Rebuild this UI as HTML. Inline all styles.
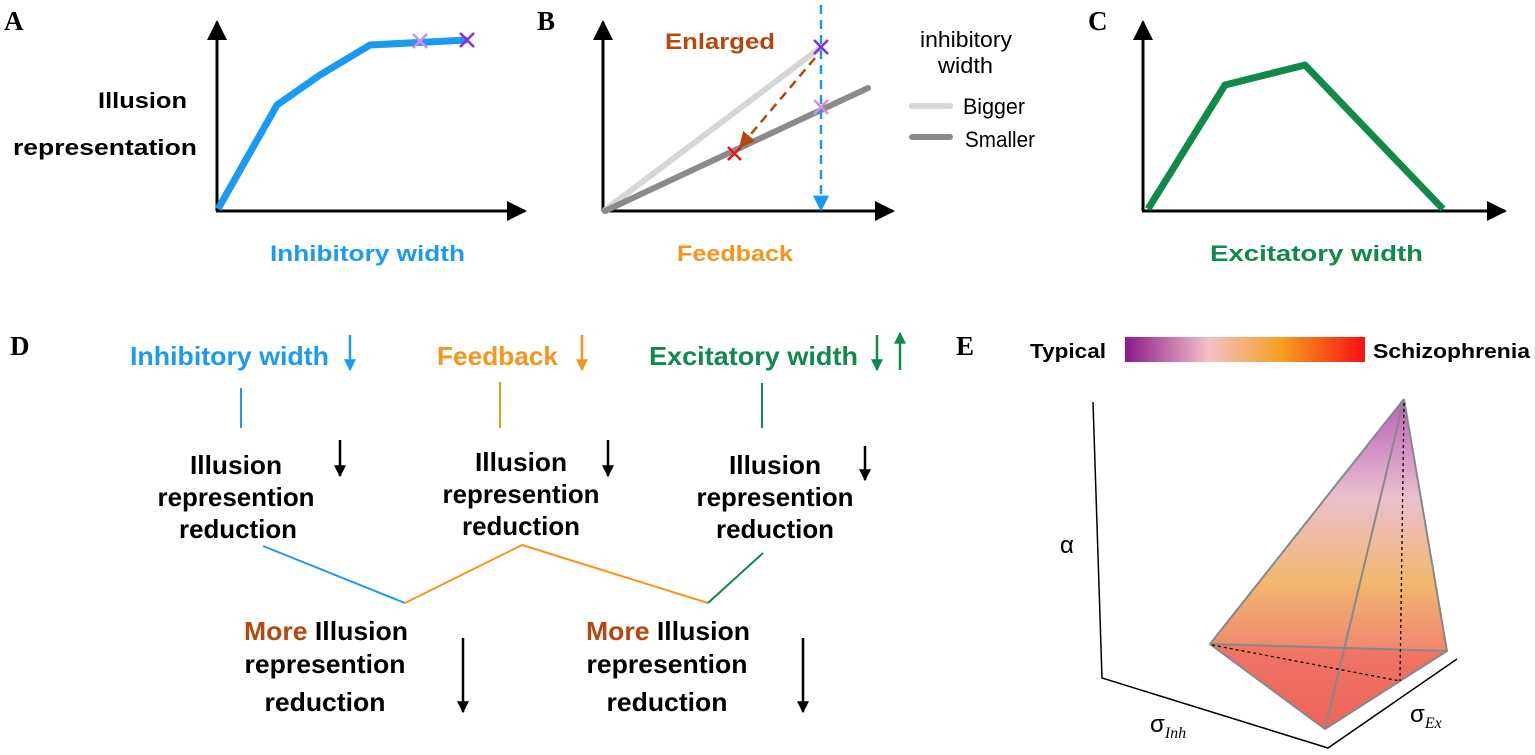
<!DOCTYPE html>
<html><head><meta charset="utf-8"><style>
body{margin:0;background:#fff}
svg{display:block;font-family:"Liberation Sans",sans-serif}
.b{font-weight:bold}
</style></head><body>
<svg width="1535" height="755" viewBox="0 0 1535 755">
<defs>
<marker id="ak" viewBox="0 0 10 10" markerWidth="20" markerHeight="20" refX="9" refY="5" orient="auto" markerUnits="userSpaceOnUse"><path d="M0,0 L10,5 L0,10z" fill="#000"/></marker>
<marker id="ab" viewBox="0 0 10 10" markerWidth="16" markerHeight="16" refX="9" refY="5" orient="auto" markerUnits="userSpaceOnUse"><path d="M0,0 L10,5 L0,10z" fill="#1a9bef"/></marker>
<marker id="abr" viewBox="0 0 10 10" markerWidth="16" markerHeight="16" refX="9" refY="5" orient="auto" markerUnits="userSpaceOnUse"><path d="M0,0 L10,5 L0,10z" fill="#b5470f"/></marker>
<marker id="ao" viewBox="0 0 10 10" markerWidth="12" markerHeight="12" refX="9" refY="5" orient="auto" markerUnits="userSpaceOnUse"><path d="M0,0 L10,5 L0,10z" fill="#f7941d"/></marker>
<marker id="abl" viewBox="0 0 10 10" markerWidth="12" markerHeight="12" refX="9" refY="5" orient="auto" markerUnits="userSpaceOnUse"><path d="M0,0 L10,5 L0,10z" fill="#1a9bef"/></marker>
<marker id="ag" viewBox="0 0 10 10" markerWidth="12" markerHeight="12" refX="9" refY="5" orient="auto" markerUnits="userSpaceOnUse"><path d="M0,0 L10,5 L0,10z" fill="#0f8a4a"/></marker>
<marker id="ak2" viewBox="0 0 10 10" markerWidth="12" markerHeight="12" refX="9" refY="5" orient="auto" markerUnits="userSpaceOnUse"><path d="M0,0 L10,5 L0,10z" fill="#000"/></marker>
<linearGradient id="cb" x1="0" x2="1"><stop offset="0" stop-color="#8b1a8b"/><stop offset="0.35" stop-color="#f4c0c8"/><stop offset="0.65" stop-color="#f7a020"/><stop offset="1" stop-color="#f81010"/></linearGradient>
<linearGradient id="tg" x1="0" y1="0" x2="0" y2="1"><stop offset="0" stop-color="#b050b0"/><stop offset="0.3" stop-color="#e8b8c8"/><stop offset="0.55" stop-color="#f0b060"/><stop offset="0.8" stop-color="#ec7060"/><stop offset="1" stop-color="#ee5a50"/></linearGradient>
</defs>
<g font-family="Liberation Serif" font-weight="bold" font-size="27">
<text x="4" y="30">A</text><text x="537" y="30">B</text><text x="1088" y="30">C</text><text x="10" y="355">D</text><text x="956" y="355">E</text></g>

<!-- A -->
<line x1="217" y1="211" x2="217" y2="22" stroke="#000" stroke-width="3" marker-end="url(#ak)"/>
<line x1="216" y1="211" x2="525" y2="211" stroke="#000" stroke-width="3" marker-end="url(#ak)"/>
<polyline points="218,209 277,105 320,75 370,45 467,40" fill="none" stroke="#1a9bef" stroke-width="7" stroke-linejoin="round"/>
<g stroke-width="2.5"><path d="M413,34 l14,14 M427,34 l-14,14" stroke="#d88cf0"/><path d="M460,33 l14,14 M474,33 l-14,14" stroke="#8a2be2"/></g>
<text x="98" y="108" class="b" font-size="22" textLength="89" lengthAdjust="spacingAndGlyphs">Illusion</text>
<text x="13" y="155" class="b" font-size="22" textLength="184" lengthAdjust="spacingAndGlyphs">representation</text>
<text x="270" y="261" class="b" font-size="22" fill="#1a9bef" textLength="195" lengthAdjust="spacingAndGlyphs">Inhibitory width</text>

<!-- B -->
<line x1="603" y1="211" x2="603" y2="22" stroke="#000" stroke-width="3" marker-end="url(#ak)"/>
<line x1="602" y1="211" x2="893" y2="211" stroke="#000" stroke-width="3" marker-end="url(#ak)"/>
<line x1="605" y1="210" x2="820" y2="48" stroke="#d6d6d6" stroke-width="6" stroke-linecap="round"/>
<line x1="605" y1="211" x2="868" y2="88" stroke="#8a8a8a" stroke-width="6" stroke-linecap="round"/>
<line x1="821" y1="5" x2="821" y2="210" stroke="#1a9bef" stroke-width="2.5" stroke-dasharray="9,6" marker-end="url(#ab)"/>
<line x1="815" y1="58" x2="740" y2="147" stroke="#b5470f" stroke-width="2.5" stroke-dasharray="9,6" marker-end="url(#abr)"/>
<g stroke-width="2.5"><path d="M814,40 l14,14 M828,40 l-14,14" stroke="#8a2be2"/><path d="M814,100 l14,14 M828,100 l-14,14" stroke="#d88cf0"/><path d="M728,147 l13,13 M741,147 l-13,13" stroke="#f01010"/></g>
<text x="665" y="49" class="b" font-size="22" fill="#b5470f" textLength="110" lengthAdjust="spacingAndGlyphs">Enlarged</text>
<text x="920" y="47" font-size="22" textLength="92" lengthAdjust="spacingAndGlyphs">inhibitory</text>
<text x="938" y="73" font-size="22" textLength="55" lengthAdjust="spacingAndGlyphs">width</text>
<line x1="912" y1="106" x2="950" y2="106" stroke="#d6d6d6" stroke-width="6" stroke-linecap="round"/>
<text x="963" y="114" font-size="22" textLength="62" lengthAdjust="spacingAndGlyphs">Bigger</text>
<line x1="912" y1="137" x2="950" y2="137" stroke="#8a8a8a" stroke-width="6" stroke-linecap="round"/>
<text x="965" y="147" font-size="22" textLength="70" lengthAdjust="spacingAndGlyphs">Smaller</text>
<text x="677" y="261" class="b" font-size="22" fill="#f7941d" textLength="116" lengthAdjust="spacingAndGlyphs">Feedback</text>

<!-- C -->
<line x1="1143" y1="211" x2="1143" y2="22" stroke="#000" stroke-width="3" marker-end="url(#ak)"/>
<line x1="1142" y1="211" x2="1505" y2="211" stroke="#000" stroke-width="3" marker-end="url(#ak)"/>
<polyline points="1148,209 1225,85 1305,65 1443,209" fill="none" stroke="#0f8a4a" stroke-width="7" stroke-linejoin="round"/>
<text x="1210" y="261" class="b" font-size="22" fill="#0f8a4a" textLength="213" lengthAdjust="spacingAndGlyphs">Excitatory width</text>

<!-- D -->
<g class="b" font-size="26">
<text x="130" y="365" fill="#1a9bef" textLength="199" lengthAdjust="spacingAndGlyphs">Inhibitory width</text>
<text x="437" y="365" fill="#f7941d" textLength="121" lengthAdjust="spacingAndGlyphs">Feedback</text>
<text x="649" y="365" fill="#0f8a4a" textLength="209" lengthAdjust="spacingAndGlyphs">Excitatory width</text>
</g>
<line x1="350" y1="335" x2="350" y2="370" stroke="#1a9bef" stroke-width="2.5" marker-end="url(#abl)"/>
<line x1="582" y1="335" x2="582" y2="370" stroke="#f7941d" stroke-width="2.5" marker-end="url(#ao)"/>
<line x1="877" y1="335" x2="877" y2="370" stroke="#0f8a4a" stroke-width="2.5" marker-end="url(#ag)"/>
<line x1="900" y1="370" x2="900" y2="333" stroke="#0f8a4a" stroke-width="2.5" marker-end="url(#ag)"/>
<line x1="241" y1="388" x2="241" y2="428" stroke="#1a9bef" stroke-width="2"/>
<line x1="500" y1="382" x2="500" y2="428" stroke="#f7941d" stroke-width="2"/>
<line x1="762" y1="383" x2="762" y2="428" stroke="#0f8a4a" stroke-width="2"/>
<g class="b" font-size="26" text-anchor="middle" lengthAdjust="spacingAndGlyphs">
<text x="236" y="474" textLength="92" lengthAdjust="spacingAndGlyphs">Illusion</text><text x="236" y="506" textLength="157" lengthAdjust="spacingAndGlyphs">represention</text><text x="238" y="538" textLength="118" lengthAdjust="spacingAndGlyphs">reduction</text>
<text x="521" y="471" textLength="92" lengthAdjust="spacingAndGlyphs">Illusion</text><text x="521" y="503" textLength="157" lengthAdjust="spacingAndGlyphs">represention</text><text x="521" y="535" textLength="118" lengthAdjust="spacingAndGlyphs">reduction</text>
<text x="775" y="474" textLength="92" lengthAdjust="spacingAndGlyphs">Illusion</text><text x="775" y="506" textLength="157" lengthAdjust="spacingAndGlyphs">represention</text><text x="775" y="538" textLength="118" lengthAdjust="spacingAndGlyphs">reduction</text>
<text x="326" y="640" textLength="164" lengthAdjust="spacingAndGlyphs"><tspan fill="#b5470f">More</tspan> Illusion</text><text x="325" y="673" textLength="161" lengthAdjust="spacingAndGlyphs">represention</text><text x="325" y="711" textLength="121" lengthAdjust="spacingAndGlyphs">reduction</text>
<text x="668" y="640" textLength="164" lengthAdjust="spacingAndGlyphs"><tspan fill="#b5470f">More</tspan> Illusion</text><text x="667" y="673" textLength="161" lengthAdjust="spacingAndGlyphs">represention</text><text x="667" y="711" textLength="121" lengthAdjust="spacingAndGlyphs">reduction</text>
</g>
<g stroke="#000" stroke-width="2.5">
<line x1="340" y1="440" x2="340" y2="476" marker-end="url(#ak2)"/>
<line x1="608" y1="440" x2="608" y2="476" marker-end="url(#ak2)"/>
<line x1="865" y1="446" x2="865" y2="480" marker-end="url(#ak2)"/>
<line x1="463" y1="638" x2="463" y2="712" marker-end="url(#ak2)"/>
<line x1="803" y1="638" x2="803" y2="712" marker-end="url(#ak2)"/>
</g>
<polyline points="263,546 405,603" fill="none" stroke="#1a9bef" stroke-width="2"/>
<polyline points="405,603 522,545 708,603" fill="none" stroke="#f7941d" stroke-width="2"/>
<polyline points="708,603 763,553" fill="none" stroke="#0f8a4a" stroke-width="2"/>

<!-- E -->
<text x="1030" y="358" class="b" font-size="20" textLength="76" lengthAdjust="spacingAndGlyphs">Typical</text>
<rect x="1125" y="337" width="240" height="25" fill="url(#cb)"/>
<text x="1373" y="358" class="b" font-size="20" textLength="157" lengthAdjust="spacingAndGlyphs">Schizophrenia</text>
<polyline points="1093,402 1102,678 1328,748 1457,659" fill="none" stroke="#000" stroke-width="1.5"/>
<polygon points="1404,399 1210,644 1325,729 1447,651" fill="url(#tg)" opacity="0.9"/>
<polygon points="1210,644 1325,729 1447,651" fill="#ee5850" opacity="0.35"/>
<g stroke="#888" stroke-width="2" fill="none">
<polyline points="1404,399 1210,644 1325,729 1447,651 1404,399 1325,729"/>
<line x1="1210" y1="644" x2="1447" y2="651"/>
</g>
<g stroke="#000" stroke-width="1.3" stroke-dasharray="3,3" fill="none">
<line x1="1404" y1="403" x2="1400" y2="681"/><line x1="1212" y1="645" x2="1400" y2="681"/></g>
<text x="1060" y="553" font-size="24">α</text>
<text x="1150" y="732" font-size="24">σ<tspan font-family="Liberation Serif" font-style="italic" font-size="16" dy="6">Inh</tspan></text>
<text x="1410" y="722" font-size="24">σ<tspan font-family="Liberation Serif" font-style="italic" font-size="16" dy="6">Ex</tspan></text>
</svg>
</body></html>
